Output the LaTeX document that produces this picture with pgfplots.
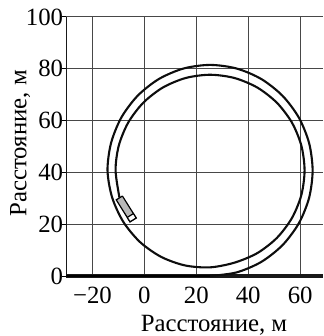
\documentclass[border=0pt]{standalone}
\usepackage{fontspec}
\setmainfont{Liberation Serif}
\usepackage{pgfplots}
\pgfplotsset{compat=1.18}
\usetikzlibrary{calc}
\begin{document}
\begin{tikzpicture}
\begin{axis}[name=ax, scale only axis, width=128.25pt, height=129.5pt,
  xmin=-30, xmax=68.8, ymin=0, ymax=100,
  axis lines=left, axis line style={-, black!90, line width=0.6pt},
  x axis line style={line width=1.6pt},
  xtick={-20,0,20,40,60}, xticklabels={−20,0,20,40,60},
  ytick={0,20,40,60,80,100}, yticklabels={0,20,40,60,80,100},
  grid=major, grid style={black!72, line width=0.5pt},
  tick align=outside, major tick length=2pt,
  xtick style={draw=none}, ytick style={black, line width=0.5pt},
  ticklabel style={font=\fontsize{12.4}{14}\selectfont},
  yticklabel style={inner sep=0pt, xshift=0.5pt},
  xticklabel style={anchor=base, inner sep=0pt, yshift=-11.85pt},
  label style={font=\fontsize{12.4}{14}\selectfont},
  xlabel={Расстояние, м}, ylabel={Расстояние, м},
  xlabel style={at={(axis description cs:0.575,0)}, anchor=base, yshift=-27.7pt},
  ylabel style={at={(axis description cs:-0.156,0.512)}, anchor=base},
]
% straight run-in along the x axis
\addplot[black, line width=1pt] coordinates {(-30,0) (25.3,0)};
% spiral trajectory
\addplot[black!95, line width=1.05pt, smooth] coordinates {
(25.3,0) (35.52,1.39) (45.05,5.46) (53.23,11.94) (59.51,20.38) (63.45,30.20)
(64.8,40.75) (63.45,51.30) (59.51,61.13) (53.23,69.56) (45.05,76.04) (35.52,80.11)
(25.3,81.5) (15.08,80.11) (5.55,76.04) (-2.63,69.56) (-8.91,61.13) (-12.85,51.30)
(-14.2,40.75) (-12.43,30.35) (-8.14,20.94) (-1.69,13.12) (6.44,7.39) (15.65,4.08)
(25.3,3.34) (34.72,5.16) (43.5,8.84) (51.04,14.71) (56.82,22.35) (60.46,31.25)
(61.7,40.8) (60.46,50.35) (56.82,59.25) (51.04,66.89) (43.5,72.76) (34.72,76.44)
(25.3,77.7) (15.88,76.44) (7.1,72.76) (-0.44,66.89) (-6.22,59.25) (-9.86,50.35)
(-11.1,40.8) (-9.6,30.3)
};
% vehicle
\addplot[draw=black, fill=black!28, line width=0.6pt] coordinates {
(-8.46,30.88) (-10.84,29.40) (-5.54,20.92) (-3.16,22.40) (-8.46,30.88)};
\addplot[draw=black, fill=white, line width=0.6pt] coordinates {
(-6.60,22.62) (-5.54,20.92) (-3.16,22.40) (-4.22,24.10) (-6.60,22.62)};
\end{axis}
\pgfresetboundingbox
\path ($(ax.south west)+(-33.25pt,-30pt)$) rectangle ($(ax.north east)+(0pt,8.5pt)$);
\end{tikzpicture}
\end{document}
